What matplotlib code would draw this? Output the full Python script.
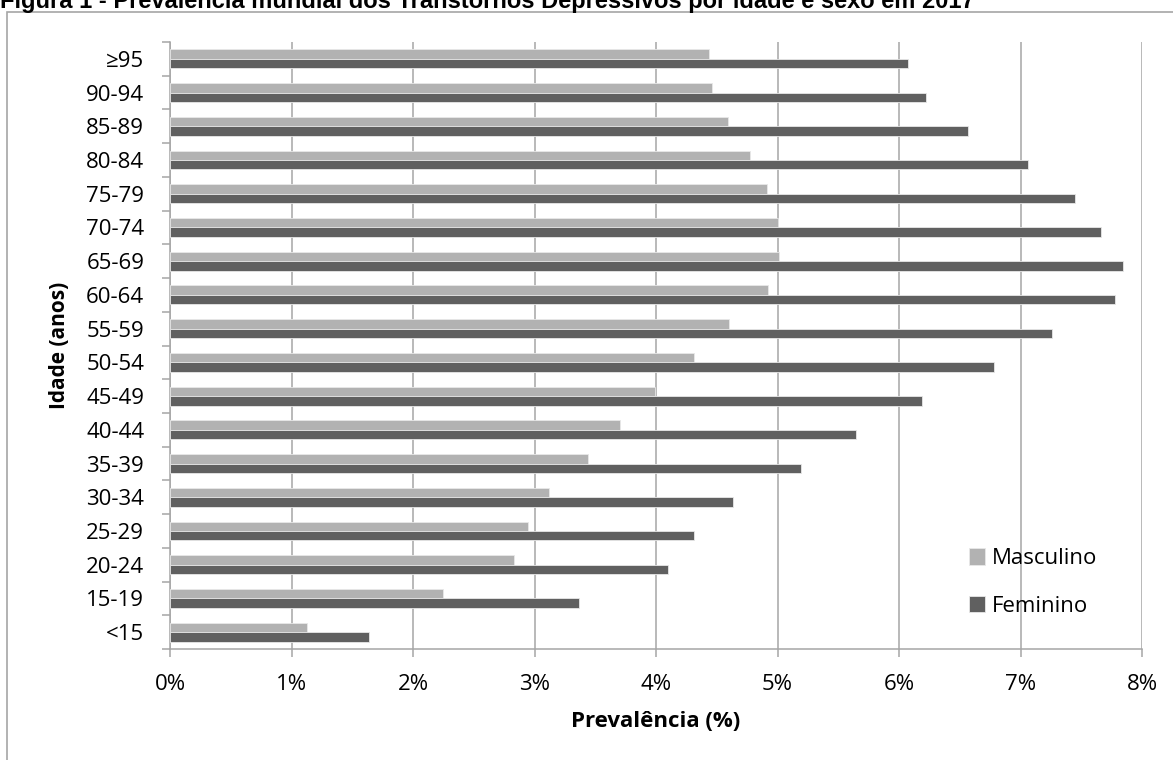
import matplotlib
matplotlib.use('Agg')
import matplotlib.pyplot as plt
from matplotlib.patches import Rectangle
import numpy as np

# prevalence of depressive disorders by age group, 2017 (%)
age_groups = ['<15', '15-19', '20-24', '25-29', '30-34', '35-39', '40-44',
              '45-49', '50-54', '55-59', '60-64', '65-69', '70-74', '75-79',
              '80-84', '85-89', '90-94', '≥95']
masculino = [1.13, 2.25, 2.83, 2.95, 3.12, 3.44, 3.70, 3.99, 4.31, 4.60,
             4.92, 5.01, 5.00, 4.91, 4.77, 4.59, 4.46, 4.44]
feminino = [1.64, 3.37, 4.10, 4.31, 4.63, 5.19, 5.65, 6.19, 6.78, 7.26,
            7.78, 7.84, 7.66, 7.45, 7.06, 6.57, 6.22, 6.07]
x_ticks = [0, 1, 2, 3, 4, 5, 6, 7, 8]

title = 'Figura 1 - Prevalência mundial dos Transtornos Depressivos por idade e sexo em 2017'

W, H = 1173, 760
fig = plt.figure(figsize=(W / 100, H / 100), dpi=100)
ax = fig.add_axes([170 / W, 1 - 649 / H, (1142 - 170) / W, (649 - 42) / H])

grey = '#a6a6a6'
light = '#b2b2b2'
dark = '#606060'
font = 'Open Sans'
tick_size = 16

y = np.arange(len(age_groups))
h = 0.28
ax.barh(y + h / 2, masculino, height=h, color=light, edgecolor='#e8e8e8',
        linewidth=0.6, label='Masculino', zorder=3)
ax.barh(y - h / 2, feminino, height=h, color=dark, edgecolor='#e8e8e8',
        linewidth=0.6, label='Feminino', zorder=3)

ax.set_xlim(0, 8)
ax.set_ylim(-0.5, len(age_groups) - 0.5)
ax.set_xticks(x_ticks)
ax.set_xticklabels([f'{v}%' for v in x_ticks], fontsize=tick_size, family=font)
ax.set_yticks(y)
ax.set_yticklabels(age_groups, fontsize=tick_size, family=font)
ax.set_yticks(np.arange(-0.5, len(age_groups)), minor=True)

ax.tick_params(axis='y', which='major', length=0, pad=18.5)
ax.tick_params(axis='y', which='minor', length=6, color=grey, width=1.1)
ax.tick_params(axis='x', length=6, color=grey, width=1.1, pad=12)

ax.xaxis.grid(True, color=grey, linewidth=1.1, zorder=0)
ax.set_axisbelow(True)
for side in ['top', 'right']:
    ax.spines[side].set_visible(False)
for side in ['left', 'bottom']:
    ax.spines[side].set_color(grey)
    ax.spines[side].set_linewidth(1.1)

ax.set_xlabel('Prevalência (%)', fontsize=16, fontweight='bold', family=font)
ax.set_ylabel('Idade (anos)', fontsize=15, fontweight='bold', family=font)
ax.xaxis.set_label_coords(0.5, (649 - 711) / 607)
ax.yaxis.set_label_coords((70 - 170) / 972, 0.5)

leg = ax.legend(loc='lower left', bbox_to_anchor=(0.801, 0.02), frameon=False,
                prop={'family': font, 'size': tick_size}, labelspacing=1.2,
                handlelength=0.75, handleheight=0.75, handletextpad=0.3)

# frame around the figure area and the clipped caption above it
fig.patches.append(Rectangle((7 / W, -0.05), 1.2, 1 - 12 / H + 0.05,
                             transform=fig.transFigure, fill=False,
                             edgecolor=grey, linewidth=1.2))
fig.text(0, 1 - 8 / H, title, family='Liberation Sans', fontweight='bold',
         fontsize=17, va='baseline', ha='left')

fig.savefig('out.png', dpi=100)
